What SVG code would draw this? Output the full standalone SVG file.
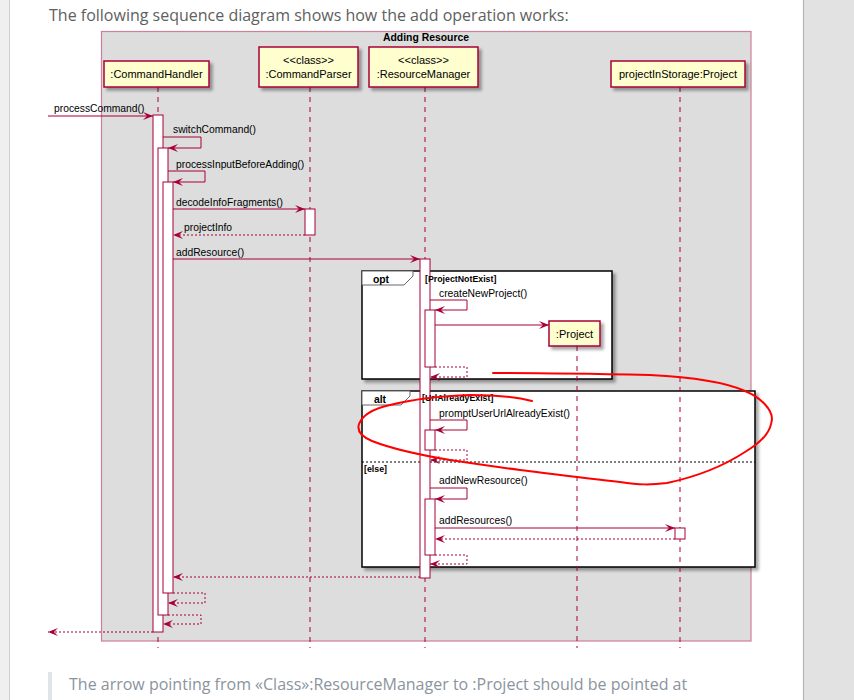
<svg xmlns="http://www.w3.org/2000/svg" width="854" height="700" viewBox="0 0 854 700">
<defs>
<filter id="sh" x="-10%" y="-10%" width="130%" height="140%"><feDropShadow dx="3" dy="3" stdDeviation="1.5" flood-color="#000" flood-opacity="0.35"/></filter>
<marker id="ah" markerUnits="userSpaceOnUse" markerWidth="10" markerHeight="8" refX="10" refY="4" orient="auto"><path d="M0,0 L10,4 L0,8 L4,4 Z" fill="#A80036"/></marker>
<marker id="ao" markerUnits="userSpaceOnUse" markerWidth="10" markerHeight="8" refX="10" refY="4" orient="auto"><path d="M0,0 L10,4 L0,8 L4,4 Z" fill="#A80036"/></marker>
<style>
.page{font-family:"Open Sans","Liberation Sans",sans-serif;font-size:16px}
.head{fill:#FEFECE;stroke:#A80036;stroke-width:1.5;filter:url(#sh)}
.ht{font-family:"Liberation Sans",Arial,sans-serif;font-size:11px;fill:#000;text-anchor:middle}
.life{stroke:#A80036;stroke-width:1;stroke-dasharray:5,5}
.bar{fill:#fff;stroke:#A80036;stroke-width:1}
.msg{fill:none;stroke:#A80036;stroke-width:1;marker-end:url(#ah)}
.ret{fill:none;stroke:#A80036;stroke-width:1;stroke-dasharray:2,2;marker-end:url(#ao)}
.ml{font-family:"Liberation Sans",Arial,sans-serif;font-size:10.3px;fill:#000}
.gf{fill:#fff;stroke:#000;stroke-width:1.5;filter:url(#sh)}
.tab{fill:#fff;stroke:#666;stroke-width:1}
.gl{font-family:"Liberation Sans",Arial,sans-serif;font-weight:bold;font-size:8.8px;fill:#000}
.gk{font-family:"Liberation Sans",Arial,sans-serif;font-weight:bold;font-size:10.4px;fill:#000;text-anchor:middle}
</style>
</defs>

<g id="page">
<rect x="0" y="0" width="854" height="700" fill="#fff"/>
<rect x="0" y="0" width="9" height="700" fill="#efefef"/>
<line x1="9.5" y1="0" x2="9.5" y2="700" stroke="#cfcfcf"/>
<rect x="803" y="0" width="51" height="700" fill="#e2e2e2"/>
<line x1="803.5" y1="0" x2="803.5" y2="700" stroke="#b5b5b5" stroke-width="1.2"/>
<text class="page" x="49" y="21" fill="#606060">The following sequence diagram shows how the add operation works:</text>
<rect x="48" y="672" width="4" height="28" fill="#dfe4ea"/>
<text class="page" x="69" y="690" fill="#8a949e">The arrow pointing from «Class»:ResourceManager to :Project should be pointed at</text>
</g>

<g id="box-adding-resource">
<rect x="101.5" y="31.5" width="649.5" height="609.5" fill="#DDDDDD" stroke="#CF7F98" stroke-width="1.2"/>
<text class="gk" x="426" y="41" font-size="10.4">Adding Resource</text>
</g>

<g id="opt-frame">
<rect class="gf" x="362" y="271" width="250" height="108"/>
<path class="tab" d="M362,271 H413 V276 L404,285 H362 Z"/>
<text class="gk" x="381" y="283">opt</text>
</g>

<g id="alt-frame">
<rect class="gf" x="362" y="391" width="393" height="176"/>
<path class="tab" d="M362,391 H410 V396 L401,405 H362 Z"/>
<text class="gk" x="380" y="403">alt</text>
<line x1="362" y1="462" x2="755" y2="462" stroke="#000" stroke-width="1" stroke-dasharray="2,2"/>
<text class="gl" x="364" y="472">[else]</text>
</g>

<g id="CommandHandler">
<line class="life" x1="158" y1="87" x2="158" y2="648"/>
<rect class="head" x="104" y="61" width="105" height="26"/>
<text class="ht" x="156.5" y="78">:CommandHandler</text>
<rect class="bar" x="153" y="115" width="10" height="517"/>
<rect class="bar" x="158" y="148" width="10" height="467"/>
<rect class="bar" x="163" y="182" width="10" height="411"/>
</g>

<g id="CommandParser">
<line class="life" x1="310" y1="87" x2="310" y2="648"/>
<rect class="head" x="259" y="47" width="99" height="40"/>
<text class="ht" x="308.5" y="64">&lt;&lt;class&gt;&gt;</text>
<text class="ht" x="308.5" y="78">:CommandParser</text>
<rect class="bar" x="305" y="209" width="10" height="26"/>
</g>

<g id="ResourceManager">
<line class="life" x1="425" y1="87" x2="425" y2="648"/>
<rect class="head" x="369" y="47" width="109" height="40"/>
<text class="ht" x="423.5" y="64">&lt;&lt;class&gt;&gt;</text>
<text class="ht" x="423.5" y="78">:ResourceManager</text>
<rect class="bar" x="420" y="259" width="10" height="319"/>
<rect class="bar" x="425" y="310" width="10" height="57"/>
<rect class="bar" x="425" y="430" width="10" height="20"/>
<rect class="bar" x="425" y="499" width="10" height="56"/>
</g>

<g id="Project">
<line class="life" x1="577" y1="346" x2="577" y2="648"/>
<rect class="head" x="549" y="321" width="51" height="25"/>
<text class="ht" x="574.5" y="337.5">:Project</text>
</g>

<g id="projectInStorage">
<line class="life" x1="680" y1="87" x2="680" y2="648"/>
<rect class="head" x="611" y="61" width="134" height="26"/>
<text class="ht" x="678" y="78">projectInStorage:Project</text>
<rect class="bar" x="675" y="528" width="10" height="11"/>
</g>

<g id="frame-guards">
<text class="gl" x="425" y="282">[ProjectNotExist]</text>
<text class="gl" x="422" y="401">[UrlAlreadyExist]</text>
</g>

<g id="connectors">
<path class="msg" d="M48,116 H153"/>
<text class="ml" x="54" y="112">processCommand()</text>
<path class="msg" d="M163,137 H201 V148 H168"/>
<text class="ml" x="173" y="133">switchCommand()</text>
<path class="msg" d="M168,171 H205 V182 H173"/>
<text class="ml" x="176" y="168">processInputBeforeAdding()</text>
<path class="msg" d="M173,209 H305"/>
<text class="ml" x="176" y="206">decodeInfoFragments()</text>
<path class="ret" d="M305,235 H173"/>
<text class="ml" x="184" y="230.5">projectInfo</text>
<path class="msg" d="M173,259 H420"/>
<text class="ml" x="176" y="255.5">addResource()</text>

<path class="msg" d="M430,300 H467 V310 H435"/>
<text class="ml" x="439" y="297">createNewProject()</text>
<path class="msg" d="M435,325 H549"/>
<path class="ret" d="M435,367 H467 V377 H430"/>

<path class="msg" d="M430,420 H467 V430 H435"/>
<text class="ml" x="439" y="417">promptUserUrlAlreadyExist()</text>
<path class="ret" d="M435,450 H467 V460 H430"/>

<path class="msg" d="M430,488 H467 V499 H435"/>
<text class="ml" x="439" y="484">addNewResource()</text>
<path class="msg" d="M435,528 H675"/>
<text class="ml" x="439" y="524">addResources()</text>
<path class="ret" d="M675,539 H435"/>
<path class="ret" d="M435,555 H467 V564 H430"/>

<path class="ret" d="M420,577 H173"/>
<path class="ret" d="M173,593 H205 V603 H168"/>
<path class="ret" d="M168,615 H201 V624 H163"/>
<path class="ret" d="M153,632 H48"/>
</g>

<g id="annotation">
<path d="M493,373 C540,373 600,374 650,375 C690,377 725,382 745,391 C762,398 772,410 772,419 C771,430 765,440 745,452 C725,465 700,476 667,483 C650,485 640,485 620,482 C590,479 560,475 520,470 C490,466 470,463 450,460 C420,455 395,450 372,441 C360,436 357,430 359,424 C362,416 372,409 390,405 C410,400 440,396 470,395 C495,395 512,396 532,401" fill="none" stroke="#f00" stroke-width="2" stroke-linecap="round" stroke-linejoin="round"/>
</g>
</svg>
